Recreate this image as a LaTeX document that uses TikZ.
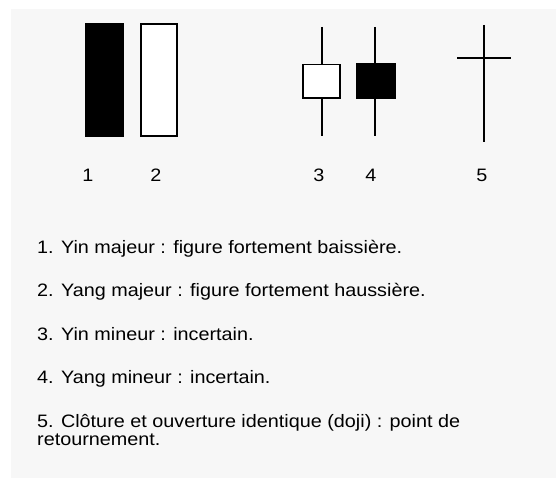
\documentclass[tikz,border=0pt]{standalone}
\usepackage{fontspec}
\setmainfont[FakeStretch=1.1]{Liberation Sans}
\definecolor{panelgray}{HTML}{F7F7F7}
\begin{document}
\begin{tikzpicture}[x=1pt,y=-1pt,
  lbl/.style={inner sep=0pt,anchor=base,font=\fontsize{18}{20}\selectfont},
  txt/.style={inner sep=0pt,anchor=base west,font=\fontsize{18}{20}\selectfont},
  wick/.style={line width=1.8pt},
  hollow/.style={draw=black,line width=1.8pt,fill=white},
  solid/.style={fill=black,draw=none}]
\useasboundingbox (0,0) rectangle (557,478);
\fill[white] (0,0) rectangle (557,478);
\fill[panelgray] (11,9) rectangle (556,478);
% 1 and 2
\fill[black] (85,23) rectangle (124,137);
\draw[hollow] (141,24) rectangle (177,136);
% 3
\draw[wick] (322,27) -- (322,136);
\draw[hollow] (303,64.5) rectangle (340,98);
% 4
\draw[wick] (375,27) -- (375,136);
\fill[black] (356,63) rectangle (396,99);
% 5
\draw[wick] (484,25) -- (484,142);
\draw[wick] (457,58) -- (511,58);
% labels
\node[lbl] (l1) at (88,182) {1};
\node[lbl] (l2) at (156,182) {2};
\node[lbl] (l3) at (319,182) {3};
\node[lbl] (l4) at (371,182) {4};
\node[lbl] (l5) at (482,182) {5};
% texts
\node[txt] (t1) at (37,254) {1. Yin majeur : figure fortement baissière.};
\node[txt] (t2) at (37,297) {2. Yang majeur : figure fortement haussière.};
\node[txt] (t3) at (37,340.5) {3. Yin mineur : incertain.};
\node[txt] (t4) at (37,384) {4. Yang mineur : incertain.};
\node[txt] (t5) at (37,427.5) {5. Clôture et ouverture identique (doji) : point de};
\node[txt] (t6) at (37,445.5) {retournement.};
\end{tikzpicture}
\end{document}
